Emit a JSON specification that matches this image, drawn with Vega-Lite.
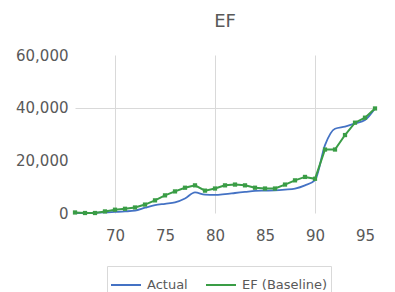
{
  "$schema": "https://vega.github.io/schema/vega-lite/v6.json",
  "width": 300,
  "height": 158,
  "autosize": {"type": "none"},
  "padding": {"left": 75, "top": 55, "right": 20, "bottom": 79},
  "background": "white",
  "config": {
    "view": {"stroke": null},
    "font": "DejaVu Sans"
  },
  "title": {"text": "EF", "fontSize": 18, "font": "DejaVu Sans", "fontWeight": "normal", "color": "#595959", "offset": 17, "anchor": "middle"},
  "datasets": {
    "rows": [
      {"year": 66, "series": "Actual", "value": 0},
      {"year": 67, "series": "Actual", "value": 0},
      {"year": 68, "series": "Actual", "value": 100},
      {"year": 69, "series": "Actual", "value": 200},
      {"year": 70, "series": "Actual", "value": 400},
      {"year": 71, "series": "Actual", "value": 600},
      {"year": 72, "series": "Actual", "value": 900},
      {"year": 73, "series": "Actual", "value": 2000},
      {"year": 74, "series": "Actual", "value": 3000},
      {"year": 75, "series": "Actual", "value": 3500},
      {"year": 76, "series": "Actual", "value": 4000},
      {"year": 77, "series": "Actual", "value": 5500},
      {"year": 78, "series": "Actual", "value": 7800},
      {"year": 79, "series": "Actual", "value": 7000},
      {"year": 80, "series": "Actual", "value": 6900},
      {"year": 81, "series": "Actual", "value": 7200},
      {"year": 82, "series": "Actual", "value": 7600},
      {"year": 83, "series": "Actual", "value": 8000},
      {"year": 84, "series": "Actual", "value": 8400},
      {"year": 85, "series": "Actual", "value": 8500},
      {"year": 86, "series": "Actual", "value": 8600},
      {"year": 87, "series": "Actual", "value": 8900},
      {"year": 88, "series": "Actual", "value": 9300},
      {"year": 89, "series": "Actual", "value": 10500},
      {"year": 90, "series": "Actual", "value": 12500},
      {"year": 91, "series": "Actual", "value": 25800},
      {"year": 92, "series": "Actual", "value": 32000},
      {"year": 93, "series": "Actual", "value": 32800},
      {"year": 94, "series": "Actual", "value": 34000},
      {"year": 95, "series": "Actual", "value": 35300},
      {"year": 96, "series": "Actual", "value": 39700},
      {"year": 66, "series": "EF (Baseline)", "value": 200},
      {"year": 67, "series": "EF (Baseline)", "value": 0},
      {"year": 68, "series": "EF (Baseline)", "value": 0},
      {"year": 69, "series": "EF (Baseline)", "value": 600},
      {"year": 70, "series": "EF (Baseline)", "value": 1250},
      {"year": 71, "series": "EF (Baseline)", "value": 1600},
      {"year": 72, "series": "EF (Baseline)", "value": 2100},
      {"year": 73, "series": "EF (Baseline)", "value": 3200},
      {"year": 74, "series": "EF (Baseline)", "value": 4800},
      {"year": 75, "series": "EF (Baseline)", "value": 6700},
      {"year": 76, "series": "EF (Baseline)", "value": 8200},
      {"year": 77, "series": "EF (Baseline)", "value": 9600},
      {"year": 78, "series": "EF (Baseline)", "value": 10500},
      {"year": 79, "series": "EF (Baseline)", "value": 8500},
      {"year": 80, "series": "EF (Baseline)", "value": 9300},
      {"year": 81, "series": "EF (Baseline)", "value": 10500},
      {"year": 82, "series": "EF (Baseline)", "value": 10800},
      {"year": 83, "series": "EF (Baseline)", "value": 10500},
      {"year": 84, "series": "EF (Baseline)", "value": 9600},
      {"year": 85, "series": "EF (Baseline)", "value": 9300},
      {"year": 86, "series": "EF (Baseline)", "value": 9300},
      {"year": 87, "series": "EF (Baseline)", "value": 10800},
      {"year": 88, "series": "EF (Baseline)", "value": 12400},
      {"year": 89, "series": "EF (Baseline)", "value": 13700},
      {"year": 90, "series": "EF (Baseline)", "value": 13000},
      {"year": 91, "series": "EF (Baseline)", "value": 24100},
      {"year": 92, "series": "EF (Baseline)", "value": 24100},
      {"year": 93, "series": "EF (Baseline)", "value": 29600},
      {"year": 94, "series": "EF (Baseline)", "value": 34300},
      {"year": 95, "series": "EF (Baseline)", "value": 36200},
      {"year": 96, "series": "EF (Baseline)", "value": 39700}
    ]
  },
  "data": {"name": "rows"},
  "encoding": {
    "x": {
      "field": "year", "type": "quantitative",
      "scale": {"domain": [66, 96], "nice": false, "zero": false},
      "axis": {
        "title": null, "values": [70, 75, 80, 85, 90, 95], "format": "d",
        "domain": false, "ticks": false, "labelPadding": 15,
        "labelFont": "DejaVu Sans", "labelFontSize": 15, "labelColor": "#595959",
        "grid": true, "gridColor": "#d9d9d9", "gridWidth": 1,
        "gridOpacity": {"condition": {"test": "datum.value % 10 === 0", "value": 1}, "value": 0}
      }
    },
    "y": {
      "field": "value", "type": "quantitative",
      "scale": {"domain": [0, 60000], "nice": false},
      "axis": {
        "title": null, "values": [0, 20000, 40000, 60000], "format": ",.0f",
        "domain": false, "ticks": false, "labelPadding": 7,
        "labelFont": "DejaVu Sans", "labelFontSize": 15, "labelColor": "#595959",
        "grid": true, "gridColor": "#d9d9d9", "gridWidth": 1,
        "gridOpacity": {"condition": {"test": "datum.value === 40000", "value": 1}, "value": 0}
      }
    },
    "color": {
      "field": "series", "type": "nominal",
      "scale": {"domain": ["Actual", "EF (Baseline)"], "range": ["#4472C4", "#3a9d46"]},
      "legend": {
        "title": null, "orient": "none", "direction": "horizontal",
        "legendX": 32, "legendY": 211,
        "symbolType": "stroke", "symbolSize": 900, "symbolStrokeWidth": 2,
        "labelFont": "DejaVu Sans", "labelFontSize": 13, "labelColor": "#595959",
        "strokeColor": "#d9d9d9", "padding": 3, "columnPadding": 14, "labelOffset": 5
      }
    }
  },
  "layer": [
    {
      "transform": [{"filter": "datum.series === 'Actual'"}],
      "mark": {"type": "line", "strokeWidth": 1.8, "interpolate": "monotone"}
    },
    {
      "transform": [{"filter": "datum.series === 'EF (Baseline)'"}],
      "mark": {"type": "line", "strokeWidth": 2}
    },
    {
      "transform": [{"filter": "datum.series === 'EF (Baseline)'"}],
      "mark": {"type": "point", "shape": "square", "filled": true, "size": 18, "opacity": 1}
    }
  ]
}
